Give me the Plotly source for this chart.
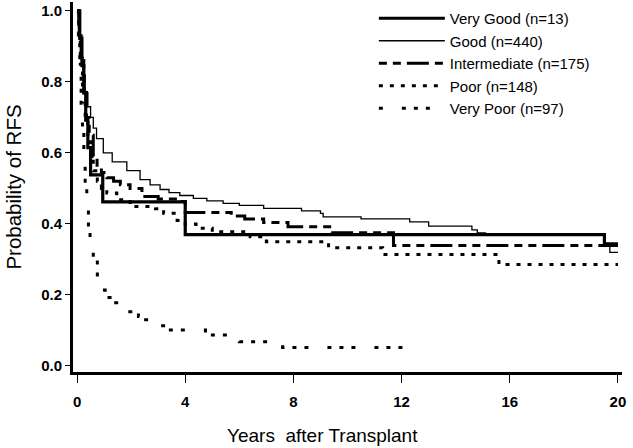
import plotly.graph_objects as go

# Kaplan-Meier style RFS curves
very_good_t = [0, 0.1, 0.18, 0.25, 0.32, 0.4, 0.5, 0.95, 4.0, 19.5, 20.0]
very_good_s = [1.0, 0.923, 0.846, 0.769, 0.692, 0.615, 0.538, 0.462, 0.37, 0.344, 0.344]

good_t = [0, 0.03, 0.08, 0.15, 0.22, 0.3, 0.4, 0.5, 0.6, 0.72, 0.97, 1.3, 1.84, 2.33,
          2.7, 3.07, 3.4, 3.8, 4.3, 4.8, 5.4, 6.0, 6.9, 8.3, 9.0, 9.1, 10.5, 12.3,
          13.0, 14.6, 14.8, 15.1, 19.5, 19.7, 20.0]
good_s = [1.0, 0.96, 0.92, 0.87, 0.82, 0.77, 0.73, 0.70, 0.67, 0.64, 0.60, 0.575, 0.55, 0.525,
          0.51, 0.497, 0.488, 0.48, 0.472, 0.465, 0.458, 0.452, 0.444, 0.437, 0.43, 0.42, 0.414, 0.406,
          0.394, 0.383, 0.375, 0.37, 0.344, 0.32, 0.32]

intermediate_t = [0, 0.08, 0.15, 0.25, 0.35, 0.45, 0.6, 0.74, 0.9, 1.1, 1.35, 1.6, 1.96,
                  2.4, 3.0, 3.7, 4.0, 5.7, 6.2, 6.9, 7.8, 9.4, 11.7, 20.0]
intermediate_s = [1.0, 0.93, 0.86, 0.77, 0.70, 0.65, 0.59, 0.56, 0.545, 0.53, 0.52, 0.51, 0.50,
                  0.477, 0.47, 0.463, 0.432, 0.422, 0.414, 0.404, 0.392, 0.375, 0.339, 0.339]

poor_t = [0, 0.06, 0.12, 0.2, 0.3, 0.4, 0.5, 0.6, 0.75, 0.9, 1.1, 1.47, 1.96, 2.9, 3.2,
          3.7, 4.0, 4.4, 5.0, 6.4, 7.0, 9.3, 11.3, 15.6, 20.0]
poor_s = [1.0, 0.93, 0.85, 0.78, 0.70, 0.64, 0.59, 0.55, 0.52, 0.50, 0.487, 0.468, 0.449, 0.443, 0.43,
          0.41, 0.40, 0.388, 0.378, 0.364, 0.35, 0.333, 0.314, 0.286, 0.286]

very_poor_t = [0, 0.05, 0.1, 0.15, 0.2, 0.25, 0.3, 0.36, 0.42, 0.48, 0.55, 0.6, 0.75, 0.94,
               1.04, 1.22, 1.65, 2.27, 2.48, 2.67, 3.34, 4.75, 6.0, 7.6, 12.7]
very_poor_s = [1.0, 0.92, 0.83, 0.74, 0.66, 0.59, 0.52, 0.468, 0.39, 0.345, 0.32, 0.30, 0.256, 0.214,
               0.193, 0.178, 0.153, 0.139, 0.13, 0.113, 0.101, 0.087, 0.068, 0.052, 0.052]

x_ticks = [0, 4, 8, 12, 16, 20]
y_ticks = [0.0, 0.2, 0.4, 0.6, 0.8, 1.0]
y_tick_labels = ['0.0', '0.2', '0.4', '0.6', '0.8', '1.0']

FONT = 'Liberation Sans, Arial, sans-serif'

series = [
    ('Very Good (n=13)', very_good_t, very_good_s, 3.2, 'solid'),
    ('Good (n=440)', good_t, good_s, 1.3, 'solid'),
    ('Intermediate (n=175)', intermediate_t, intermediate_s, 3, '8px,6px,8px,6px,22px,6px'),
    ('Poor (n=148)', poor_t, poor_s, 3, '4px,7px'),
    ('Very Poor (n=97)', very_poor_t, very_poor_s, 3, '4px,19px,4px,8px,4px,8px'),
]

fig = go.Figure()
for name, t, s, w, dash in series:
    fig.add_trace(go.Scatter(
        x=t, y=s, name=name, mode='lines',
        line=dict(color='black', width=w, dash=dash, shape='hv')
    ))

fig.update_layout(
    width=633, height=448,
    margin=dict(l=73, r=11, t=2, b=76),
    plot_bgcolor='white', paper_bgcolor='white',
    font=dict(family=FONT, color='black'),
    showlegend=True,
    legend=dict(
        x=0.548, y=1.0, xanchor='left', yanchor='top',
        font=dict(size=15, family=FONT),
        itemwidth=66, tracegroupgap=0,
        bgcolor='rgba(0,0,0,0)',
    ),
    annotations=[dict(
        text='Years\u00a0 after Transplant', x=0.455, y=-0.172,
        xref='paper', yref='paper', showarrow=False,
        font=dict(size=19, family=FONT), xanchor='center', yanchor='middle'
    )],
)

fig.update_xaxes(
    range=[-0.15, 20.15], tickvals=x_ticks, automargin=False,
    showline=True, linecolor='black', linewidth=3,
    ticks='outside', ticklen=8, tickwidth=1, tickcolor='black',
    ticklabelstandoff=6,
    tickfont=dict(size=15, family=FONT, weight='bold'),
    showgrid=False, zeroline=False,
)
fig.update_yaxes(
    range=[-0.017, 1.025], tickvals=y_ticks, ticktext=y_tick_labels, automargin=False,
    showline=True, linecolor='black', linewidth=3,
    ticks='outside', ticklen=5, tickwidth=1, tickcolor='black',
    tickfont=dict(size=15, family=FONT, weight='bold'),
    title=dict(text='Probability of RFS', font=dict(size=20.5, family=FONT), standoff=14),
    showgrid=False, zeroline=False,
)

# drop the page's default body margin so the figure sits at the window's top-left
fig.write_html("out.html", config={'displayModeBar': False},
               post_script="document.body.style.margin='0';")
